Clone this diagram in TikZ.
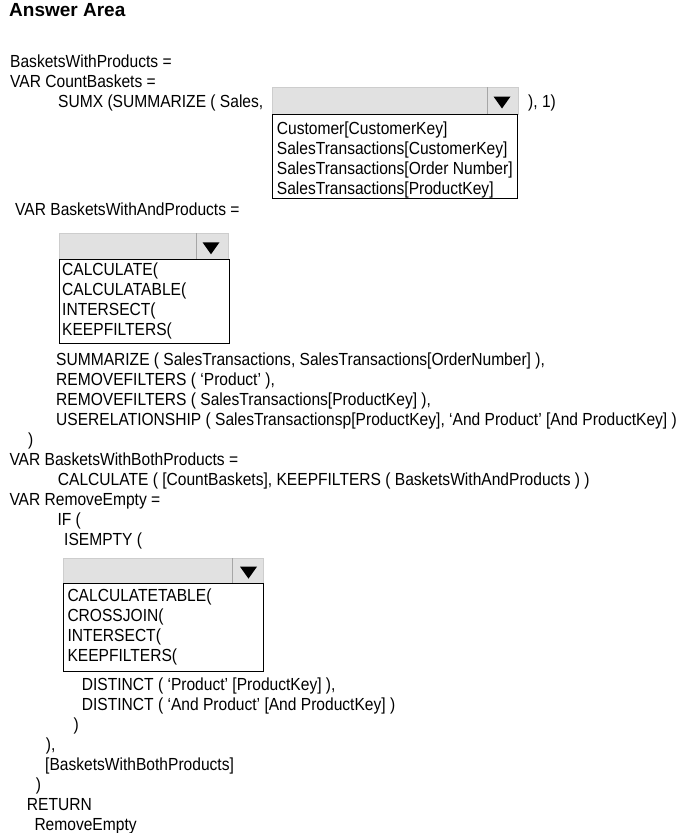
\documentclass[tikz,border=0pt]{standalone}
\usepackage{fontspec}
\setmainfont[FakeStretch=0.89]{Liberation Sans}
\newfontfamily\titlefont{Liberation Sans}
\usepackage{xcolor}
\usepackage{tikz}
\usetikzlibrary{calc}
\definecolor{ink}{HTML}{000000}
\definecolor{ddfill}{HTML}{E1E1E1}
\definecolor{ddline}{HTML}{CDCDCD}
\definecolor{ddsep}{HTML}{A6A6A6}
\tikzset{
  code/.style={anchor=base west, inner sep=0pt, text=ink, font=\fontsize{17.5}{20}\selectfont},
  title/.style={anchor=base west, inner sep=0pt, text=ink, font=\titlefont\bfseries\fontsize{19}{22}\selectfont},
  ddbox/.style={anchor=north west, draw=ddline, fill=ddfill, line width=1pt, inner sep=0pt},
  listbox/.style={anchor=north west, draw=ink, fill=white, line width=1pt, inner sep=0pt},
  ddsplit/.style={draw=ddsep, line width=1pt},
  tip/.style={fill=ink}
}

\begin{document}
\begin{tikzpicture}[x=1pt,y=-1pt]
  \useasboundingbox (0,0) rectangle (683,833);

  \node[title] (head) at (9,16.7) {Answer Area};

  % first measure
  \node[code] (a1) at (10,67.7) {BasketsWithProducts =};
  \node[code] (a2) at (10,87) {VAR CountBaskets =};
  \node[code] (a3) at (58,107) {SUMX (SUMMARIZE ( Sales,};
  \node[code] (a4) at (528,107) {), 1)};

  \node[ddbox, minimum width=246.6pt, minimum height=27pt] (dd1) at (271.7,87) {};
  \draw[ddsplit] ($(dd1.north east)+(-31.6,0)$) -- ($(dd1.south east)+(-31.6,0)$);
  \coordinate (tip1) at ($(dd1.east)+(-17.3,1)$);
  \fill[tip] (tip1) ++(-8.5,-5.5) -- ++(17,0) -- ++(-8.5,12) -- cycle;
  \node[listbox, minimum width=245pt, minimum height=84pt] (list1) at (271.7,114) {};
  \node[code] (i1a) at (276.7,134) {Customer[CustomerKey]};
  \node[code] (i1b) at (276.7,154) {SalesTransactions[CustomerKey]};
  \node[code] (i1c) at (276.7,174) {SalesTransactions[Order Number]};
  \node[code] (i1d) at (276.7,194) {SalesTransactions[ProductKey]};

  % second measure
  \node[code] (b1) at (15,215) {VAR BasketsWithAndProducts =};

  \node[ddbox, minimum width=168.4pt, minimum height=26pt] (dd2) at (59.3,233.3) {};
  \draw[ddsplit] ($(dd2.north east)+(-32.7,0)$) -- ($(dd2.south east)+(-32.7,0)$);
  \coordinate (tip2) at ($(dd2.east)+(-17.7,1)$);
  \fill[tip] (tip2) ++(-8.5,-5.5) -- ++(17,0) -- ++(-8.5,12) -- cycle;
  \node[listbox, minimum width=169.4pt, minimum height=83.4pt] (list2) at (59.3,259.3) {};
  \node[code] (i2a) at (62,275) {CALCULATE(};
  \node[code] (i2b) at (62,295) {CALCULATABLE(};
  \node[code] (i2c) at (62,315) {INTERSECT(};
  \node[code] (i2d) at (62,335) {KEEPFILTERS(};

  \node[code] (b2) at (56,365.7) {SUMMARIZE ( SalesTransactions, SalesTransactions[OrderNumber] ),};
  \node[code] (b3) at (56,385.7) {REMOVEFILTERS ( ‘Product’ ),};
  \node[code] (b4) at (56,405.7) {REMOVEFILTERS ( SalesTransactions[ProductKey] ),};
  \node[code] (b5) at (56,425.7) {USERELATIONSHIP ( SalesTransactionsp[ProductKey], ‘And Product’ [And ProductKey] )};
  \node[code] (b6) at (28,445.7) {)};

  % third measure
  \node[code] (c1) at (9.3,465.7) {VAR BasketsWithBothProducts =};
  \node[code] (c2) at (57.7,485.7) {CALCULATE ( [CountBaskets], KEEPFILTERS ( BasketsWithAndProducts ) )};

  % fourth measure
  \node[code] (d1) at (9.3,505.7) {VAR RemoveEmpty =};
  \node[code] (d2) at (57.3,525.7) {IF (};
  \node[code] (d3) at (64,545.7) {ISEMPTY (};

  \node[ddbox, minimum width=200.6pt, minimum height=24.7pt] (dd3) at (62.7,558.3) {};
  \draw[ddsplit] ($(dd3.north east)+(-31.6,0)$) -- ($(dd3.south east)+(-31.6,0)$);
  \coordinate (tip3) at ($(dd3.east)+(-15.8,1)$);
  \fill[tip] (tip3) ++(-8.5,-5.5) -- ++(17,0) -- ++(-8.5,12) -- cycle;
  \node[listbox, minimum width=200.6pt, minimum height=87.7pt] (list3) at (62.7,583) {};
  \node[code] (i3a) at (67.3,601.7) {CALCULATETABLE(};
  \node[code] (i3b) at (67.3,621.7) {CROSSJOIN(};
  \node[code] (i3c) at (67.3,641.7) {INTERSECT(};
  \node[code] (i3d) at (67.3,661.7) {KEEPFILTERS(};

  \node[code] (d4) at (81.7,690) {DISTINCT ( ‘Product’ [ProductKey] ),};
  \node[code] (d5) at (81.7,710) {DISTINCT ( ‘And Product’ [And ProductKey] )};
  \node[code] (d6) at (73.3,730) {)};
  \node[code] (d7) at (45.7,750) {),};
  \node[code] (d8) at (45,770) {[BasketsWithBothProducts]};
  \node[code] (d9) at (35.7,790) {)};
  \node[code] (d10) at (26.7,810) {RETURN};
  \node[code] (d11) at (34.3,830) {RemoveEmpty};
\end{tikzpicture}
\end{document}
